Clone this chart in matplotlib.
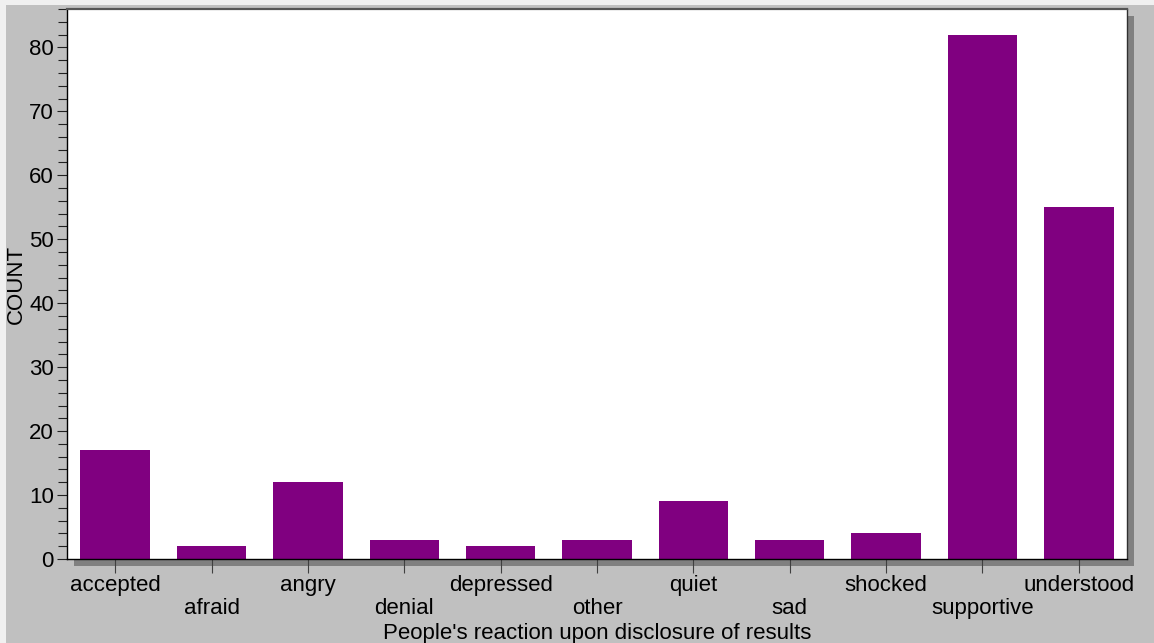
import matplotlib
matplotlib.use("Agg")
import matplotlib.pyplot as plt
from matplotlib.patches import Rectangle
from matplotlib.ticker import MultipleLocator

# reactions and their counts
reactions = ["accepted", "afraid", "angry", "denial", "depressed", "other",
             "quiet", "sad", "shocked", "supportive", "understood"]
counts = [17, 2, 12, 3, 2, 3, 9, 3, 4, 82, 55]

plt.rcParams['font.family'] = ['Liberation Sans', 'DejaVu Sans']
FS = 16

W, H = 1154, 643
fig = plt.figure(figsize=(W / 100, H / 100), dpi=100, facecolor="#f0f0f0")

# grey panel behind everything
fig.patches.append(Rectangle((6 / W, 0), 1 - 6 / W, 1 - 5 / H,
                             transform=fig.transFigure, facecolor="#c0c0c0",
                             edgecolor="none", zorder=0))

left, right, bottom, top = 67, 1127, 559, 9
ax_rect = [left / W, 1 - bottom / H, (right - left) / W, (bottom - top) / H]

# drop shadow of the plot box
off = 7
fig.patches.append(Rectangle(((left + off) / W, 1 - (bottom + off) / H),
                             (right - left) / W, (bottom - top) / H,
                             transform=fig.transFigure, facecolor="#808080",
                             edgecolor="none", zorder=1))

ax = fig.add_axes(ax_rect)
ax.set_facecolor("white")
ax.set_zorder(2)

x = list(range(len(reactions)))
ax.bar(x, counts, width=0.72, color="#800080", edgecolor="none")

ax.set_xlim(-0.5, len(reactions) - 0.5)
ax.set_ylim(0, 86)

ax.yaxis.set_major_locator(MultipleLocator(10))
ax.yaxis.set_minor_locator(MultipleLocator(2))
ax.tick_params(axis="y", which="major", length=7.5, width=0.8, pad=2,
               labelsize=FS, color="#202020")
ax.tick_params(axis="y", which="minor", length=6.5, width=0.8, color="#202020")

# even labels on major ticks, odd labels on minor ticks with more pad
even = [i for i in x if i % 2 == 0]
odd = [i for i in x if i % 2 == 1]
ax.set_xticks(even)
ax.set_xticklabels([reactions[i] for i in even])
ax.set_xticks(odd, minor=True)
ax.set_xticklabels([reactions[i] for i in odd], minor=True)
ax.tick_params(axis="x", which="major", length=10, width=0.8, pad=1.5,
               labelsize=FS, color="#404040")
ax.tick_params(axis="x", which="minor", length=10, width=0.8, pad=18,
               labelsize=FS, color="#404040")

for side in ["left", "bottom"]:
    ax.spines[side].set_color("black")
    ax.spines[side].set_linewidth(1.0)
ax.spines["top"].set_color("#555555")
ax.spines["top"].set_linewidth(1.6)
ax.spines["right"].set_color("#303030")
ax.spines["right"].set_linewidth(1.0)

fig.text((left + right) / 2 / W, 1 - 639 / H,
         "People's reaction upon disclosure of results",
         ha="center", va="baseline", fontsize=FS)
fig.text(16 / W, 1 - 284 / H, "COUNT", rotation=90, ha="center",
         va="center", fontsize=FS)

fig.savefig("out.png", dpi=100, facecolor=fig.get_facecolor())
